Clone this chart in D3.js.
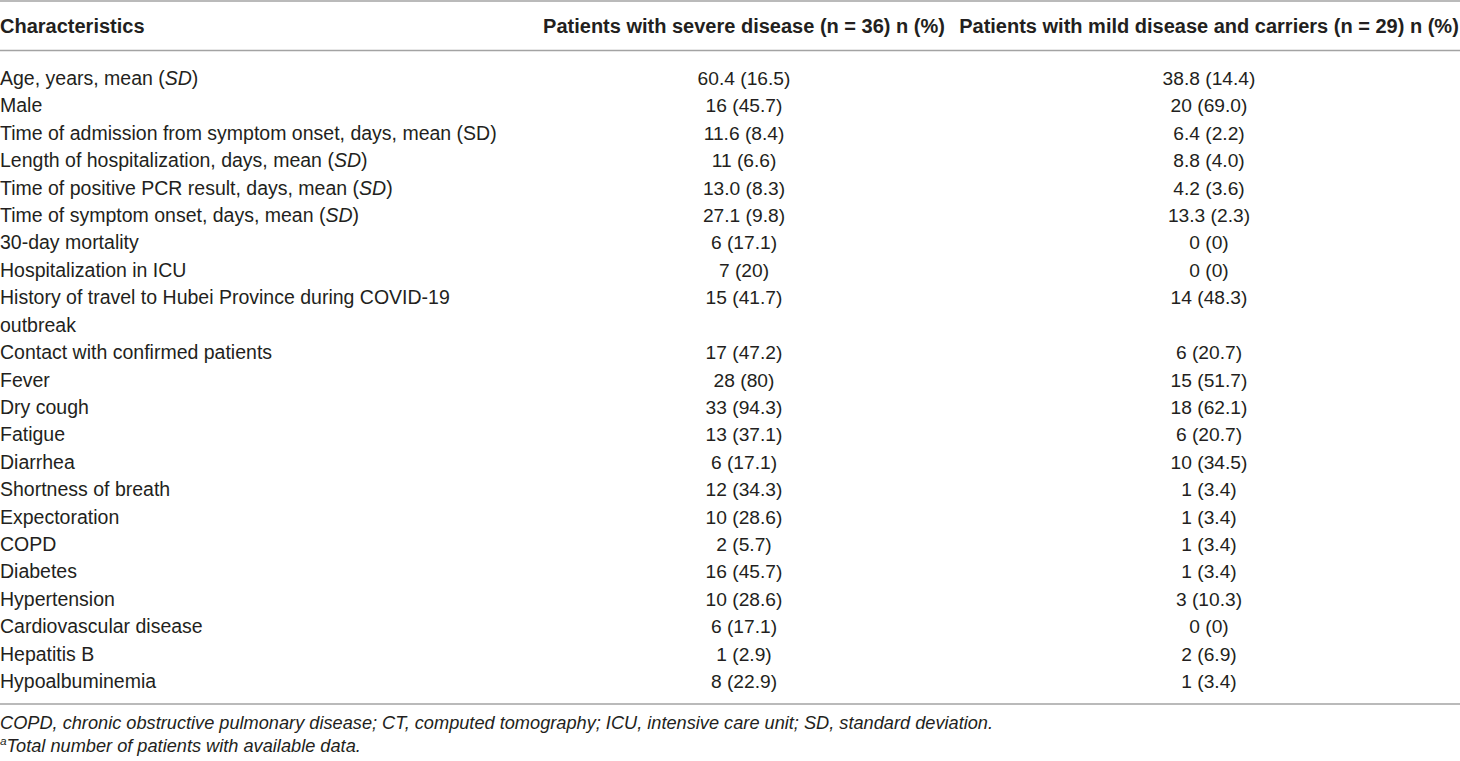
<!DOCTYPE html>
<html>
<head>
<meta charset="utf-8">
<script src="https://cdn.jsdelivr.net/npm/d3@7"></script>
<style>
  body { margin: 0; background: #fff; }
  text { font-family: "Liberation Sans", Arial, sans-serif; fill: #231f20; }
</style>
</head>
<body>
<script>
// table content, *...* marks italic, ^...^ superscript
var headers = ["Characteristics",
  "Patients with severe disease (n = 36) n (%)",
  "Patients with mild disease and carriers (n = 29) n (%)"];
var characteristics = [
  ["Age, years, mean (*SD*)"],
  ["Male"],
  ["Time of admission from symptom onset, days, mean (SD)"],
  ["Length of hospitalization, days, mean (*SD*)"],
  ["Time of positive PCR result, days, mean (*SD*)"],
  ["Time of symptom onset, days, mean (*SD*)"],
  ["30-day mortality"],
  ["Hospitalization in ICU"],
  ["History of travel to Hubei Province during COVID-19", "outbreak"],
  ["Contact with confirmed patients"],
  ["Fever"],
  ["Dry cough"],
  ["Fatigue"],
  ["Diarrhea"],
  ["Shortness of breath"],
  ["Expectoration"],
  ["COPD"],
  ["Diabetes"],
  ["Hypertension"],
  ["Cardiovascular disease"],
  ["Hepatitis B"],
  ["Hypoalbuminemia"]
];
var severe = ["60.4 (16.5)", "16 (45.7)", "11.6 (8.4)", "11 (6.6)", "13.0 (8.3)", "27.1 (9.8)",
  "6 (17.1)", "7 (20)", "15 (41.7)", "17 (47.2)", "28 (80)", "33 (94.3)", "13 (37.1)",
  "6 (17.1)", "12 (34.3)", "10 (28.6)", "2 (5.7)", "16 (45.7)", "10 (28.6)", "6 (17.1)",
  "1 (2.9)", "8 (22.9)"];
var mild = ["38.8 (14.4)", "20 (69.0)", "6.4 (2.2)", "8.8 (4.0)", "4.2 (3.6)", "13.3 (2.3)",
  "0 (0)", "0 (0)", "14 (48.3)", "6 (20.7)", "15 (51.7)", "18 (62.1)", "6 (20.7)",
  "10 (34.5)", "1 (3.4)", "1 (3.4)", "1 (3.4)", "1 (3.4)", "3 (10.3)", "0 (0)",
  "2 (6.9)", "1 (3.4)"];
var footnotes = [
  "COPD, chronic obstructive pulmonary disease; CT, computed tomography; ICU, intensive care unit; SD, standard deviation.",
  "^a^Total number of patients with available data."
];

var width = 1460, height = 761;
var svg = d3.select("body").append("svg")
  .attr("width", width)
  .attr("height", height);

// line index of each row (wrapped rows take more lines)
var rows = [], line = 0;
characteristics.forEach(function (c, i) {
  rows.push({ label: c, severe: severe[i], mild: mild[i], line: line });
  line += c.length;
});
// baseline of each text line
var y = d3.scaleLinear().domain([0, line - 1]).range([85, 688]);
var x = d3.scaleOrdinal().domain(["label", "severe", "mild"]).range([0, 744, 1209]);

function rich(sel, str) {
  var up = 0;
  str.split(/(\*[^*]+\*|\^[^^]+\^)/).forEach(function (part) {
    if (!part) return;
    var t = sel.append("tspan");
    if (part[0] === "*") t.attr("font-style", "italic").text(part.slice(1, -1));
    else if (part[0] === "^") { t.attr("font-size", "0.65em").attr("dy", -7).text(part.slice(1, -1)); up = 7; }
    else { t.text(part); if (up) { t.attr("dy", up); up = 0; } }
  });
}

// rules
svg.selectAll("line.rule")
  .data([1, 50.5, 704])
  .enter().append("line")
  .attr("class", "rule")
  .attr("x1", 0).attr("x2", width)
  .attr("y1", function (d) { return d; })
  .attr("y2", function (d) { return d; })
  .attr("stroke", "#a3a3a3")
  .attr("stroke-width", 1.5);

// header
svg.selectAll("text.head")
  .data(headers)
  .enter().append("text")
  .attr("class", "head")
  .attr("x", function (d, i) { return x.range()[i]; })
  .attr("y", 33)
  .attr("font-size", 20)
  .attr("font-weight", "bold")
  .attr("text-anchor", function (d, i) { return i ? "middle" : "start"; })
  .text(function (d) { return d; });

var g = svg.selectAll("g.row")
  .data(rows)
  .enter().append("g")
  .attr("class", "row")
  .attr("transform", function (d) { return "translate(0," + y(d.line) + ")"; });

g.each(function (d) {
  var sel = d3.select(this);
  d.label.forEach(function (l, k) {
    var t = sel.append("text")
      .attr("x", x("label"))
      .attr("y", y(d.line + k) - y(d.line))
      .attr("font-size", 19.5);
    rich(t, l);
  });
  sel.append("text")
    .attr("x", x("severe"))
    .attr("text-anchor", "middle")
    .attr("font-size", 19.2)
    .text(d.severe);
  sel.append("text")
    .attr("x", x("mild"))
    .attr("text-anchor", "middle")
    .attr("font-size", 19.2)
    .text(d.mild);
});

svg.selectAll("text.foot")
  .data(footnotes)
  .enter().append("text")
  .attr("class", "foot")
  .attr("x", 0)
  .attr("y", function (d, i) { return 729 + i * 23; })
  .attr("font-size", 18.2)
  .attr("font-style", "italic")
  .each(function (d) { rich(d3.select(this), d); });
</script>
</body>
</html>
